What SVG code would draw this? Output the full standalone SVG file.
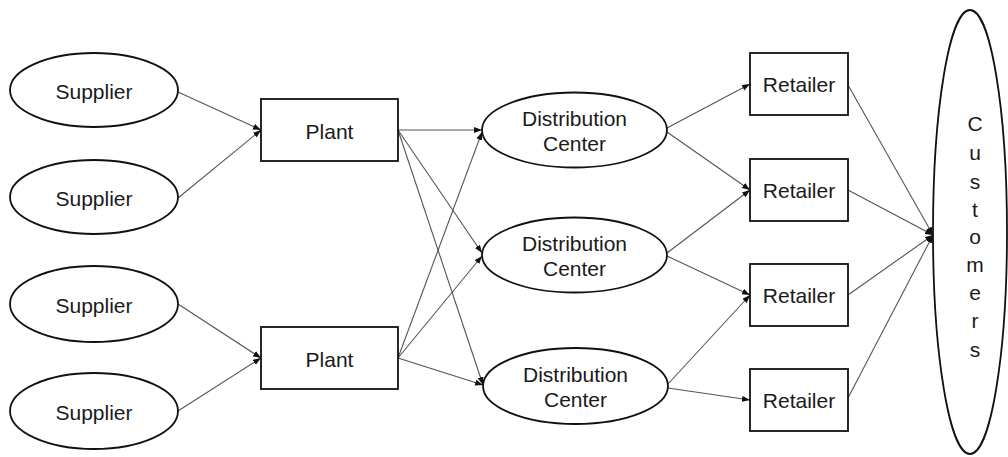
<svg xmlns="http://www.w3.org/2000/svg" width="1008" height="457" viewBox="0 0 1008 457">
<style>
.n{fill:#fff;stroke:#111;stroke-width:1.8}
.t{font-family:"Liberation Sans",Arial,sans-serif;font-size:21px;fill:#1a1a1a;text-anchor:middle}
.c{fill:none;stroke:#555;stroke-width:1.1;marker-end:url(#ah)}
</style>
<defs>
<marker id="ah" markerUnits="userSpaceOnUse" markerWidth="9" markerHeight="7" refX="8" refY="3" orient="auto">
<path d="M0,0 L8,3 L0,6 z" fill="#111"/>
</marker>
</defs>
<rect width="1008" height="457" fill="#fff"/>
<g id="connectors">
<line class="c" x1="178" y1="92" x2="261" y2="130"/>
<line class="c" x1="178" y1="198" x2="261" y2="130"/>
<line class="c" x1="178" y1="304" x2="261" y2="358"/>
<line class="c" x1="178" y1="411" x2="261" y2="358"/>
<line class="c" x1="398" y1="130" x2="482" y2="130"/>
<line class="c" x1="398" y1="130" x2="482" y2="253"/>
<line class="c" x1="398" y1="130" x2="483" y2="385"/>
<line class="c" x1="398" y1="358" x2="482" y2="132"/>
<line class="c" x1="398" y1="358" x2="482" y2="256"/>
<line class="c" x1="398" y1="358" x2="483" y2="385"/>
<line class="c" x1="667" y1="128" x2="750" y2="84"/>
<line class="c" x1="667" y1="132" x2="750" y2="190"/>
<line class="c" x1="667" y1="253" x2="750" y2="190"/>
<line class="c" x1="667" y1="256" x2="750" y2="295"/>
<line class="c" x1="668" y1="384" x2="750" y2="295"/>
<line class="c" x1="668" y1="388" x2="750" y2="400"/>
<line class="c" x1="848" y1="85" x2="933" y2="235"/>
<line class="c" x1="848" y1="190" x2="933" y2="235"/>
<line class="c" x1="848" y1="295" x2="933" y2="235"/>
<line class="c" x1="848" y1="398" x2="933" y2="235"/>
</g>
<g id="supplier1"><ellipse class="n" cx="94" cy="90" rx="84" ry="37"/><text class="t" x="94" y="99">Supplier</text></g>
<g id="supplier2"><ellipse class="n" cx="94" cy="197" rx="84" ry="37"/><text class="t" x="94" y="206">Supplier</text></g>
<g id="supplier3"><ellipse class="n" cx="94" cy="304" rx="84" ry="38"/><text class="t" x="94" y="313">Supplier</text></g>
<g id="supplier4"><ellipse class="n" cx="94" cy="411" rx="84" ry="38"/><text class="t" x="94" y="420">Supplier</text></g>
<g id="plant1"><rect class="n" x="261" y="99" width="137" height="62"/><text class="t" x="329.5" y="139">Plant</text></g>
<g id="plant2"><rect class="n" x="261" y="327" width="137" height="62"/><text class="t" x="329.5" y="367">Plant</text></g>
<g id="dc1"><ellipse class="n" cx="574.5" cy="130" rx="92.5" ry="37.5"/><text class="t" x="574.5" y="126">Distribution</text><text class="t" x="574.5" y="151">Center</text></g>
<g id="dc2"><ellipse class="n" cx="574.5" cy="255" rx="92.5" ry="37.5"/><text class="t" x="574.5" y="251">Distribution</text><text class="t" x="574.5" y="276">Center</text></g>
<g id="dc3"><ellipse class="n" cx="575.5" cy="386" rx="92.5" ry="38"/><text class="t" x="575.5" y="382">Distribution</text><text class="t" x="575.5" y="407">Center</text></g>
<g id="retailer1"><rect class="n" x="750" y="53" width="98" height="62"/><text class="t" x="799" y="92">Retailer</text></g>
<g id="retailer2"><rect class="n" x="750" y="159" width="98" height="62"/><text class="t" x="799" y="198">Retailer</text></g>
<g id="retailer3"><rect class="n" x="750" y="264" width="98" height="62"/><text class="t" x="799" y="303">Retailer</text></g>
<g id="retailer4"><rect class="n" x="750" y="369" width="98" height="62"/><text class="t" x="799" y="408">Retailer</text></g>
<g id="customers"><ellipse class="n" cx="970" cy="232" rx="37" ry="222"/>
<text class="t" x="975" y="131">C</text>
<text class="t" x="975" y="160">u</text>
<text class="t" x="975" y="189">s</text>
<text class="t" x="975" y="217">t</text>
<text class="t" x="975" y="244">o</text>
<text class="t" x="975" y="272">m</text>
<text class="t" x="975" y="300">e</text>
<text class="t" x="975" y="328">r</text>
<text class="t" x="975" y="357">s</text>
</g>
</svg>
